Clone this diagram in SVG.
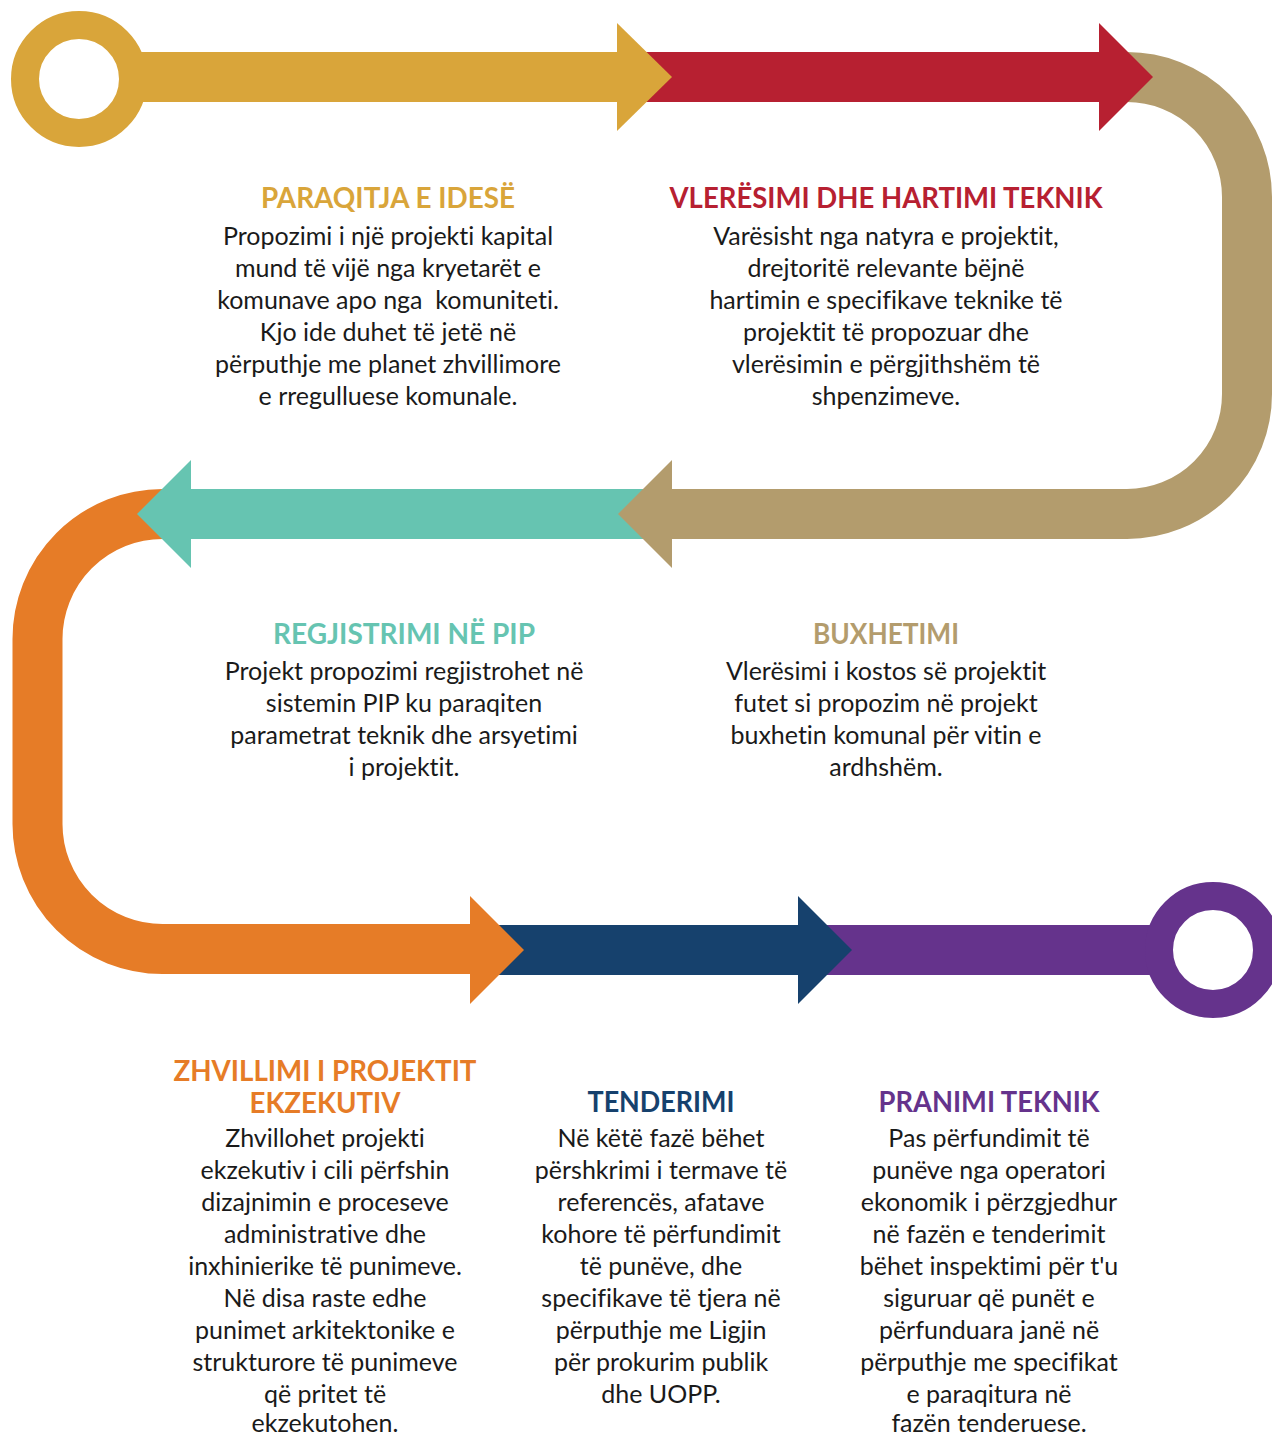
<svg xmlns="http://www.w3.org/2000/svg" width="1272" height="1436" viewBox="0 0 1272 1436">
<style>
.t{font-family:Lato,"Noto Sans","DejaVu Sans",sans-serif;font-weight:700;font-size:29px;text-anchor:middle;font-variant-ligatures:none;font-feature-settings:"liga" 0,"dlig" 0}
.b{font-family:Lato,"Noto Sans","DejaVu Sans",sans-serif;font-weight:400;font-size:25px;fill:#1a1a1a;text-anchor:middle;font-variant-ligatures:none;font-feature-settings:"liga" 0,"dlig" 0}
.ring{fill:none;stroke-width:28}
.curve{fill:none;stroke-width:50}
</style>
<rect width="1272" height="1436" fill="#ffffff"/>

<g id="step7-pranimi">
  <rect x="825" y="925" width="340" height="50" fill="#65338C"/>
  <circle class="ring" cx="1213" cy="950" r="54" stroke="#65338C"/>
  <text class="t" x="989" y="1112" fill="#65338C" textLength="221" lengthAdjust="spacingAndGlyphs">PRANIMI TEKNIK</text>
  <text class="b" x="989" y="1147">Pas përfundimit të</text>
  <text class="b" x="989" y="1179">punëve nga operatori</text>
  <text class="b" x="989" y="1211">ekonomik i përzgjedhur</text>
  <text class="b" x="989" y="1243">në fazën e tenderimit</text>
  <text class="b" x="989" y="1275">bëhet inspektimi për t'u</text>
  <text class="b" x="989" y="1307">siguruar që punët e</text>
  <text class="b" x="989" y="1339">përfunduara janë në</text>
  <text class="b" x="989" y="1371">përputhje me specifikat</text>
  <text class="b" x="989" y="1403">e paraqitura në</text>
  <text class="b" x="989" y="1432">fazën tenderuese.</text>
</g>

<g id="step6-tenderimi">
  <rect x="495" y="925" width="308" height="50" fill="#16416D"/>
  <polygon points="798,896 852,950 798,1004" fill="#16416D"/>
  <text class="t" x="661" y="1112" fill="#16416D" textLength="147" lengthAdjust="spacingAndGlyphs">TENDERIMI</text>
  <text class="b" x="661" y="1147">Në këtë fazë bëhet</text>
  <text class="b" x="661" y="1179">përshkrimi i termave të</text>
  <text class="b" x="661" y="1211">referencës, afatave</text>
  <text class="b" x="661" y="1243">kohore të përfundimit</text>
  <text class="b" x="661" y="1275">të punëve, dhe</text>
  <text class="b" x="661" y="1307">specifikave të tjera në</text>
  <text class="b" x="661" y="1339">përputhje me Ligjin</text>
  <text class="b" x="661" y="1371">për prokurim publik</text>
  <text class="b" x="661" y="1403">dhe UOPP.</text>
</g>

<g id="step5-zhvillimi">
  <path class="curve" d="M 195 514 H 162.5 A 125 125 0 0 0 37.5 639 V 824 A 125 125 0 0 0 162.5 949 H 475" stroke="#E67C27"/>
  <polygon points="470,896 524,950 470,1004" fill="#E67C27"/>
  <text class="t" x="325" y="1081" fill="#E67C27" textLength="303" lengthAdjust="spacingAndGlyphs">ZHVILLIMI I PROJEKTIT</text>
  <text class="t" x="325" y="1113" fill="#E67C27" textLength="151" lengthAdjust="spacingAndGlyphs">EKZEKUTIV</text>
  <text class="b" x="325" y="1147">Zhvillohet projekti</text>
  <text class="b" x="325" y="1179">ekzekutiv i cili përfshin</text>
  <text class="b" x="325" y="1211">dizajnimin e proceseve</text>
  <text class="b" x="325" y="1243">administrative dhe</text>
  <text class="b" x="325" y="1275">inxhinierike të punimeve.</text>
  <text class="b" x="325" y="1307">Në disa raste edhe</text>
  <text class="b" x="325" y="1339">punimet arkitektonike e</text>
  <text class="b" x="325" y="1371">strukturore të punimeve</text>
  <text class="b" x="325" y="1403">që pritet të</text>
  <text class="b" x="325" y="1432">ekzekutohen.</text>
</g>

<g id="step4-regjistrimi">
  <rect x="185" y="489" width="465" height="50" fill="#66C4B1"/>
  <polygon points="191,460 137,514 191,568" fill="#66C4B1"/>
  <text class="t" x="404" y="644" fill="#66C4B1" textLength="262" lengthAdjust="spacingAndGlyphs">REGJISTRIMI NË PIP</text>
  <text class="b" x="404" y="680">Projekt propozimi regjistrohet në</text>
  <text class="b" x="404" y="712">sistemin PIP ku paraqiten</text>
  <text class="b" x="404" y="744">parametrat teknik dhe arsyetimi</text>
  <text class="b" x="404" y="776">i projektit.</text>
</g>

<g id="step3-buxhetimi">
  <path class="curve" d="M 1115 77 H 1127 A 120 120 0 0 1 1247 197 V 394 A 120 120 0 0 1 1127 514 H 668" stroke="#B39C6D"/>
  <polygon points="672,460 618,514 672,568" fill="#B39C6D"/>
  <text class="t" x="886" y="644" fill="#B39C6D" textLength="146" lengthAdjust="spacingAndGlyphs">BUXHETIMI</text>
  <text class="b" x="886" y="680">Vlerësimi i kostos së projektit</text>
  <text class="b" x="886" y="712">futet si propozim në projekt</text>
  <text class="b" x="886" y="744">buxhetin komunal për vitin e</text>
  <text class="b" x="886" y="776">ardhshëm.</text>
</g>

<g id="step2-vleresimi">
  <rect x="640" y="52" width="462" height="50" fill="#B72031"/>
  <polygon points="1099,23 1153,77 1099,131" fill="#B72031"/>
  <text class="t" x="886" y="208" fill="#B72031" textLength="433" lengthAdjust="spacingAndGlyphs">VLERËSIMI DHE HARTIMI TEKNIK</text>
  <text class="b" x="886" y="245">Varësisht nga natyra e projektit,</text>
  <text class="b" x="886" y="277">drejtoritë relevante bëjnë</text>
  <text class="b" x="886" y="309">hartimin e specifikave teknike të</text>
  <text class="b" x="886" y="341">projektit të propozuar dhe</text>
  <text class="b" x="886" y="373">vlerësimin e përgjithshëm të</text>
  <text class="b" x="886" y="405">shpenzimeve.</text>
</g>

<g id="step1-paraqitja">
  <circle class="ring" cx="79" cy="79" r="54" stroke="#D9A53A"/>
  <rect x="125" y="52" width="495" height="50" fill="#D9A53A"/>
  <polygon points="617,23 672,77 617,131" fill="#D9A53A"/>
  <text class="t" x="388" y="208" fill="#D9A53A" textLength="254" lengthAdjust="spacingAndGlyphs">PARAQITJA E IDESË</text>
  <text class="b" x="388" y="245">Propozimi i një projekti kapital</text>
  <text class="b" x="388" y="277">mund të vijë nga kryetarët e</text>
  <text class="b" x="388" y="309" xml:space="preserve">komunave apo nga  komuniteti.</text>
  <text class="b" x="388" y="341">Kjo ide duhet të jetë në</text>
  <text class="b" x="388" y="373">përputhje me planet zhvillimore</text>
  <text class="b" x="388" y="405">e rregulluese komunale.</text>
</g>
</svg>
